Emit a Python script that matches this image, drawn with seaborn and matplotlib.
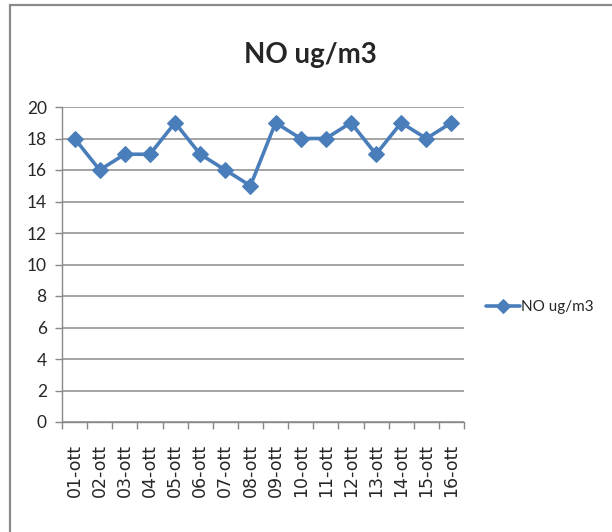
import matplotlib
matplotlib.use("Agg")
import matplotlib.pyplot as plt
import matplotlib.patches as mpatches
import seaborn as sns
import pandas as pd

# Data
days = ["01-ott", "02-ott", "03-ott", "04-ott", "05-ott", "06-ott", "07-ott", "08-ott",
        "09-ott", "10-ott", "11-ott", "12-ott", "13-ott", "14-ott", "15-ott", "16-ott"]
no_values = [18, 16, 17, 17, 19, 17, 16, 15, 19, 18, 18, 19, 17, 19, 18, 19]
series_name = "NO ug/m3"

df = pd.DataFrame({"day": days, "value": no_values})

sns.set_theme(style="white")
plt.rcParams["font.family"] = ["DejaVu Sans"]
lato = "Lato"

W, H = 612, 532
fig = plt.figure(figsize=(W / 100, H / 100), dpi=100)
ax = fig.add_axes([62 / W, 110 / H, 402 / W, 315 / H])

blue = "#4A7EBB"
sns.lineplot(data=df, x="day", y="value", ax=ax, color=blue, linewidth=2.6,
             marker="D", markersize=8.5, markeredgecolor=blue, label=series_name,
             sort=False)

# axes
ax.set_ylim(0, 20)
ax.set_yticks(range(0, 21, 2))
ax.set_yticklabels([str(v) for v in range(0, 21, 2)], family=lato, fontsize=12.5)
ax.set_xlim(-0.5, len(days) - 0.5)
ax.set_xticks([i - 0.5 for i in range(len(days) + 1)])
ax.set_xticklabels([])
ax.set_xticks(range(len(days)), minor=True)
ax.set_xticklabels(days, minor=True, rotation=90, fontsize=12.5)
ax.tick_params(axis="x", which="minor", length=0, pad=16)
ax.tick_params(axis="x", which="major", length=5, width=1, color="#888888",
               direction="out", bottom=True)
ax.tick_params(axis="y", length=5, width=1, color="#888888", direction="out",
               left=True, pad=6)
ax.set_xlabel("")
ax.set_ylabel("")

ax.yaxis.grid(True, color="#8C8C8C", linewidth=1.1)
ax.xaxis.grid(False)
for side in ["top", "right"]:
    ax.spines[side].set_visible(False)
for side in ["left", "bottom"]:
    ax.spines[side].set_color("#888888")
    ax.spines[side].set_linewidth(1)

fig.text(310 / W, 1 - 55 / H, series_name, ha="center", va="center",
         fontsize=20, fontweight="bold", family=lato)

leg = ax.legend(loc="center left", bbox_to_anchor=(1.04, 0.365), frameon=False,
                prop={"family": lato, "size": 11}, handlelength=2.2,
                handletextpad=0.1, borderaxespad=0, markerscale=0.8)

# outer chart frame
fig.patches.append(mpatches.Rectangle((9.5 / W, -0.1), 1.0, 1.1 - 4.5 / H,
                                      transform=fig.transFigure, fill=False,
                                      edgecolor="#8A8A8A", linewidth=1.6))

fig.savefig("out.png", dpi=100)
